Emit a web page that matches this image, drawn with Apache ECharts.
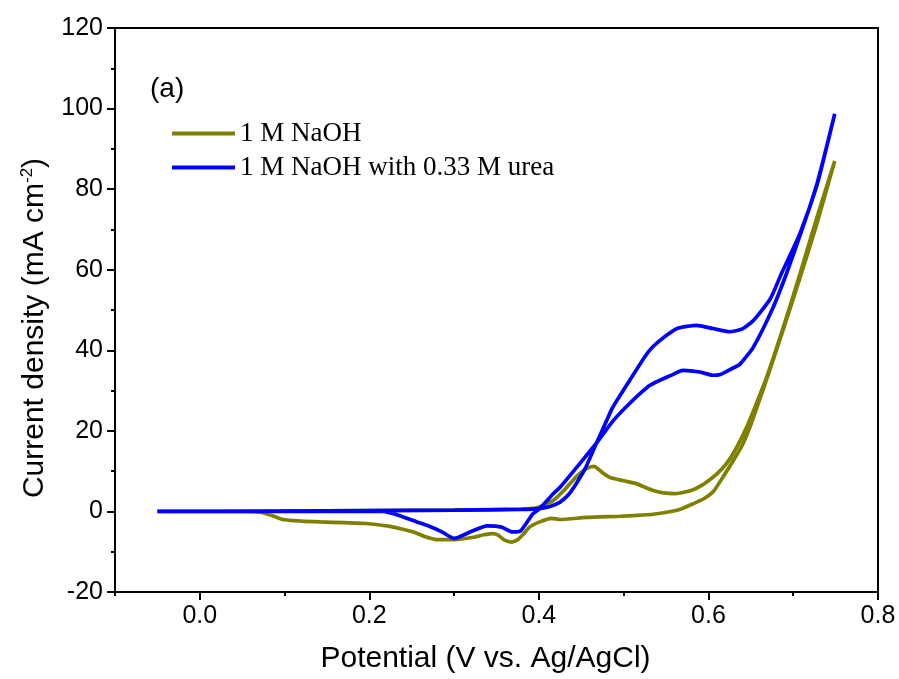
<!DOCTYPE html>
<html>
<head>
<meta charset="utf-8">
<script src="https://cdn.jsdelivr.net/npm/echarts@6/dist/echarts.min.js"></script>
<style>html,body{margin:0;padding:0;background:#fff;}#c{width:899px;height:679px;}</style>
</head>
<body>
<div id="c"></div>
<script>
// ---- data ----
const seriesNames = ['1 M NaOH', '1 M NaOH with 0.33 M urea'];
const xTickLabels = [0.0, 0.2, 0.4, 0.6, 0.8];
const yTickLabels = [-20, 0, 20, 40, 60, 80, 100, 120];

// 1 M NaOH: forward scan then reverse scan (potential V, current mA cm-2)
const naohV = [-0.05, 0.0, 0.05, 0.1, 0.2, 0.3, 0.38, 0.397, 0.41, 0.417, 0.43, 0.44, 0.448, 0.458, 0.465, 0.474, 0.484, 0.5, 0.515, 0.525, 0.535, 0.547, 0.559, 0.57, 0.582, 0.59, 0.598, 0.61, 0.621, 0.633, 0.645, 0.657, 0.669, 0.688, 0.708, 0.728, 0.749,
  0.728, 0.708, 0.688, 0.669, 0.66, 0.65, 0.64, 0.629, 0.617, 0.606, 0.595, 0.582, 0.57, 0.559, 0.535, 0.515, 0.496, 0.456, 0.425, 0.415, 0.401, 0.389, 0.381, 0.375, 0.368, 0.36, 0.352, 0.346, 0.335, 0.323, 0.301, 0.279, 0.265, 0.252, 0.235, 0.224, 0.21, 0.197, 0.17, 0.142, 0.12, 0.098, 0.085, 0.071, 0.05, 0.0, -0.05];
const naohJ = [0.0, 0.0, 0.1, 0.1, 0.2, 0.3, 0.6, 0.9, 2.0, 2.7, 5.3, 7.7, 9.4, 10.8, 11.2, 9.8, 8.4, 7.6, 6.9, 6.0, 5.2, 4.6, 4.4, 4.7, 5.4, 6.2, 7.3, 9.3, 11.8, 15.8, 20.9, 27.0, 33.5, 45.5, 59.0, 73.0, 87.0,
  71.5, 58.0, 45.0, 33.0, 27.5, 21.5, 16.5, 12.5, 8.5, 5.0, 3.2, 1.9, 0.8, 0.1, -0.7, -1.0, -1.2, -1.5, -2.0, -1.7, -2.6, -3.9, -5.8, -7.0, -7.6, -7.2, -5.9, -5.5, -5.8, -6.4, -7.0, -7.0, -6.2, -5.1, -4.2, -3.7, -3.3, -3.0, -2.8, -2.6, -2.4, -2.0, -1.0, -0.2, 0.0, 0.0, 0.0];

// 1 M NaOH with 0.33 M urea: forward scan then reverse scan
const ureaV = [-0.05, 0.0, 0.1, 0.2, 0.3, 0.38, 0.4, 0.413, 0.425, 0.435, 0.444, 0.455, 0.468, 0.48, 0.487, 0.507, 0.527, 0.535, 0.548, 0.563, 0.586, 0.605, 0.625, 0.64, 0.653, 0.673, 0.686, 0.708, 0.728, 0.749,
  0.728, 0.708, 0.692, 0.676, 0.653, 0.637, 0.629, 0.614, 0.605, 0.59, 0.57, 0.555, 0.531, 0.507, 0.488, 0.468, 0.448, 0.425, 0.417, 0.401, 0.393, 0.385, 0.378, 0.369, 0.356, 0.339, 0.32, 0.3, 0.285, 0.27, 0.256, 0.235, 0.216, 0.15, 0.05, -0.05];
const ureaJ = [0.0, 0.0, 0.1, 0.2, 0.3, 0.5, 0.7, 1.2, 2.3, 4.2, 6.9, 10.8, 17.0, 22.6, 25.8, 32.5, 39.0, 41.0, 43.3, 45.4, 46.2, 45.4, 44.6, 45.3, 47.4, 52.8, 59.0, 69.0, 81.3, 98.7,
  81.0, 68.5, 59.0, 50.5, 40.8, 36.5, 35.6, 34.0, 33.8, 34.6, 35.0, 33.7, 31.3, 26.8, 22.6, 17.0, 11.8, 6.0, 4.4, 0.7, -0.6, -3.0, -4.9, -5.1, -3.9, -3.6, -5.0, -6.7, -5.0, -3.6, -2.6, -1.0, 0.0, 0.0, 0.0, 0.0];

const pairs = (xs, ys) => xs.map((x, i) => [x, ys[i]]);

const chart = echarts.init(document.getElementById('c'));
const axisFont = 'Liberation Sans, Arial, sans-serif';
const gridTop = 28, gridBottom = 87, chartH = 679;
chart.setOption({
  animation: false,
  backgroundColor: '#fff',
  grid: { left: 115, right: 21, top: gridTop, bottom: gridBottom, show: true, borderColor: '#000', borderWidth: 2, backgroundColor: 'transparent' },
  legend: {
    orient: 'vertical', left: 167, top: 115, itemGap: 7,
    itemWidth: 63, itemHeight: 4, icon: 'rect',
    textStyle: { fontFamily: 'Liberation Serif, Times New Roman, serif', fontSize: 27, color: '#000' },
    data: seriesNames
  },
  graphic: [{ type: 'text', left: 150, top: 75, style: { text: '(a)', font: '28px Liberation Sans, Arial, sans-serif', fill: '#000' } }],
  xAxis: [{
    type: 'value', min: -0.1, max: 0.8, interval: 0.1, position: 'bottom',
    name: 'Potential (V vs. Ag/AgCl)', nameLocation: 'middle', nameGap: 52,
    nameTextStyle: { fontFamily: axisFont, fontSize: 30, color: '#000', padding: [0, 22, 0, 0] },
    axisLine: { show: true, onZero: false, lineStyle: { color: '#000', width: 2 } },
    axisTick: { show: true, inside: false, length: 4, lineStyle: { color: '#000', width: 2 } },
    axisLabel: { customValues: xTickLabels, formatter: v => v.toFixed(1), fontFamily: axisFont, fontSize: 25, color: '#000', margin: 12 },
    splitLine: { show: false }
  }, {
    // major ticks: a top-positioned helper axis shifted down onto the bottom axis line
    type: 'value', min: -0.1, max: 0.8, position: 'top', offset: -(chartH - gridTop - gridBottom),
    axisLine: { show: false, onZero: false },
    axisTick: { show: true, inside: true, length: 8, customValues: xTickLabels, lineStyle: { color: '#000', width: 2 } },
    axisLabel: { show: false },
    splitLine: { show: false }
  }],
  yAxis: {
    type: 'value', min: -20, max: 120, interval: 20,
    name: 'Current density (mA cm{sup|-2})', nameLocation: 'middle', nameGap: 64, nameRotate: 90,
    nameTextStyle: { fontFamily: axisFont, fontSize: 30, color: '#000', padding: [0, 36, 0, 0], rich: { sup: { fontFamily: axisFont, fontSize: 17, color: '#000', padding: [0, 0, 15, 0] } } },
    axisLine: { show: true, onZero: false, lineStyle: { color: '#000', width: 2 } },
    axisTick: { show: true, inside: false, length: 8, lineStyle: { color: '#000', width: 2 } },
    minorTick: { show: true, splitNumber: 2, length: 4, lineStyle: { color: '#000', width: 2 } },
    axisLabel: { customValues: yTickLabels, fontFamily: axisFont, fontSize: 25, color: '#000', margin: 12 },
    splitLine: { show: false }
  },
  series: [{
    name: seriesNames[0], type: 'line', xAxisIndex: 0, data: pairs(naohV, naohJ),
    showSymbol: false, smooth: 0.2, lineStyle: { color: '#808000', width: 3.7 }, itemStyle: { color: '#808000' }
  }, {
    name: seriesNames[1], type: 'line', xAxisIndex: 0, data: pairs(ureaV, ureaJ),
    showSymbol: false, smooth: 0.2, lineStyle: { color: '#0000ff', width: 3.7 }, itemStyle: { color: '#0000ff' }
  }]
});
</script>
</body>
</html>
